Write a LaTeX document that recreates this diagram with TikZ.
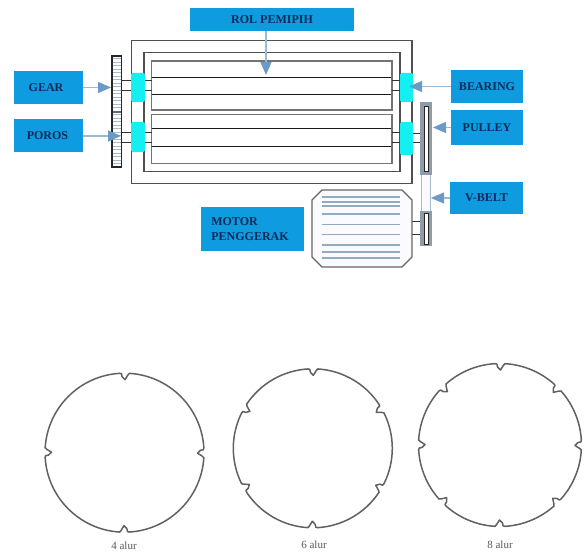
\documentclass[tikz,border=0pt]{standalone}
\usepackage{fontspec}
\setmainfont{Liberation Serif}
\usetikzlibrary{arrows.meta}
\definecolor{boxblue}{HTML}{0E9BE0}
\definecolor{labelnavy}{HTML}{0F2A58}
\definecolor{bearcyan}{HTML}{14F0F2}
\definecolor{framegray}{HTML}{505050}
\definecolor{arrowline}{HTML}{9ABBD5}
\definecolor{arrowtip}{HTML}{6A9AC6}
\definecolor{hatch}{HTML}{A9BBCB}
\definecolor{pulleygray}{HTML}{8D9CA8}
\definecolor{motorline}{HTML}{93ABC0}
\tikzset{
  labelbox/.style={fill=boxblue,inner sep=0pt,font=\bfseries\fontsize{12}{15.5}\selectfont,text=labelnavy,align=center},
  callout/.style={draw=arrowline,line width=1.1pt,-{Triangle[length=13pt,width=11pt,color=arrowtip]}},
  framebox/.style={draw=framegray,line width=1.2pt},
  rollerbox/.style={draw=black!55,line width=1.5pt},
  rollerline/.style={draw=black!90,line width=1pt},
  bearing/.style={fill=bearcyan,rounded corners=1.5pt},
  shaftline/.style={draw=black!80,line width=1pt},
  grooved/.style={draw=black!62,line width=1.5pt,line cap=round,line join=round},
  caption/.style={text=black!65,font=\fontsize{11}{13}\selectfont,inner sep=0pt}
}
% #1 centre, #2 radius, #3 first groove angle, #4 number of grooves
\newcommand{\groovedring}[4]{%
  \begin{scope}[shift={#1}]
    \pgfmathsetmacro{\stepang}{360/#4}
    \foreach \k in {1,...,#4}{
      \pgfmathsetmacro{\a}{#3+(\k-1)*\stepang}
      \pgfmathsetmacro{\b}{\a+\stepang}
      \draw[grooved] (\a+3.6:#2pt) arc[start angle=\a+3.6,end angle=\b-3.6,radius=#2pt];
      \draw[grooved] (\a-3.6:#2pt) -- (\a-2.6:#2pt-1.5pt) -- (\a-.4:#2pt-6.5pt) -- (\a+1.8:#2pt-3.5pt) -- (\a+2.2:#2pt-.5pt) -- (\a+3.6:#2pt);
    }
  \end{scope}}
\begin{document}
\begin{tikzpicture}[x=1pt,y=-1pt]
\useasboundingbox (0,0) rectangle (584,553);
\fill[white] (0,0) rectangle (584,553);

% frames and rollers
\draw[framebox] (131.5,40.5) rectangle (412,183.5);
\draw[framebox] (144,52.5) rectangle (400,171.5);
\draw[rollerbox] (151.5,61) rectangle (392,110);
\draw[rollerbox] (151.5,114.5) rectangle (392,163.5);
\foreach \y in {78,94.5,129,146.5}
  \draw[rollerline] (151.5,\y) -- (391,\y);

% shafts
\foreach \y in {81,91,132.5,143}{
  \draw[shaftline] (121.5,\y) -- (152,\y);
  \draw[shaftline] (392,\y) -- (400,\y);
}
\foreach \y in {133.5,143}
  \draw[shaftline] (412,\y) -- (420,\y);
\foreach \y in {222,234.5}
  \draw[shaftline] (412,\y) -- (420,\y);

% bearings
\fill[bearing] (131,73) rectangle (145,102);
\fill[bearing] (131,122) rectangle (145,152);
\fill[bearing] (400,73) rectangle (413,102);
\fill[bearing] (400,122) rectangle (413,155);

% gear
\fill[white] (112,56) rectangle (121.5,167);
\foreach \i in {0,...,30}
  \draw[hatch,line width=.8pt] (112,58.5+3.5*\i) -- (121.5,58.5+3.5*\i);
\draw[black!60,line width=1.4pt] (112,112) -- (121.5,112);
\draw[black!85,line width=1.1pt] (112,56) rectangle (121.5,167);

% belt and pulleys
\draw[hatch,fill=blue!2,line width=1pt] (421.5,172) rectangle (430,214);
\fill[pulleygray] (420,102.5) rectangle (432,175);
\draw[black!85,fill=white,line width=1pt] (424,106.5) rectangle (428.5,171.5);
\fill[pulleygray] (420,211.5) rectangle (432,246.5);
\draw[black!85,fill=white,line width=1pt] (424,214) rectangle (428.5,245);

% motor
\draw[black!60,fill=blue!2,line width=1.2pt] (322,190) -- (402,190) -- (412,200) -- (412,257) -- (402,267) -- (322,267) -- (312,257) -- (312,200) -- cycle;
\foreach \y in {197,202,206,214,224.5,234.5,245,252,258}
  \draw[motorline,line width=1.2pt] (322,\y) -- (400,\y);

% labels
\node[labelbox,minimum width=164pt,minimum height=22.5pt] (rol) at (272,19.75) {ROL PEMIPIH};
\node[labelbox,minimum width=69pt,minimum height=33pt] (gear) at (48.5,87.5) {\hspace{-5pt}GEAR};
\node[labelbox,minimum width=69pt,minimum height=33pt] (poros) at (48.5,136) {\hspace{-2pt}POROS};
\node[labelbox,minimum width=103pt,minimum height=44pt,align=left] (motor) at (252.5,229) {\hspace{-5pt}MOTOR\\\hspace{-5pt}PENGGERAK};
\node[labelbox,minimum width=72pt,minimum height=33pt] (bear) at (487,86.5) {BEARING};
\node[labelbox,minimum width=72pt,minimum height=35pt] (pull) at (487,127.5) {PULLEY};
\node[labelbox,minimum width=73pt,minimum height=32pt] (belt) at (486.5,198) {V-BELT};

% callouts
\coordinate (rolT) at (266,75);
\coordinate (gearT) at (111,87.5);
\coordinate (porosT) at (121,136);
\coordinate (bearT) at (409,86.5);
\coordinate (pullT) at (433,127.5);
\coordinate (beltT) at (431,198);
\draw[callout] (rolT |- rol.south) -- (rolT);
\draw[callout] (gear) -- (gearT);
\draw[callout] (poros) -- (porosT);
\draw[callout] (bear) -- (bearT);
\draw[callout] (pull) -- (pullT);
\draw[callout] (belt) -- (beltT);

% grooved rings
\groovedring{(124.5,452.7)}{79.5}{0}{4}
\groovedring{(312.8,448.3)}{79.5}{30}{6}
\groovedring{(500,445)}{81.5}{0}{8}
\node[caption] (capa) at (124,546) {4 alur};
\node[caption] (capb) at (314,545) {6 alur};
\node[caption] (capc) at (500,545) {8 alur};
\end{tikzpicture}
\end{document}
